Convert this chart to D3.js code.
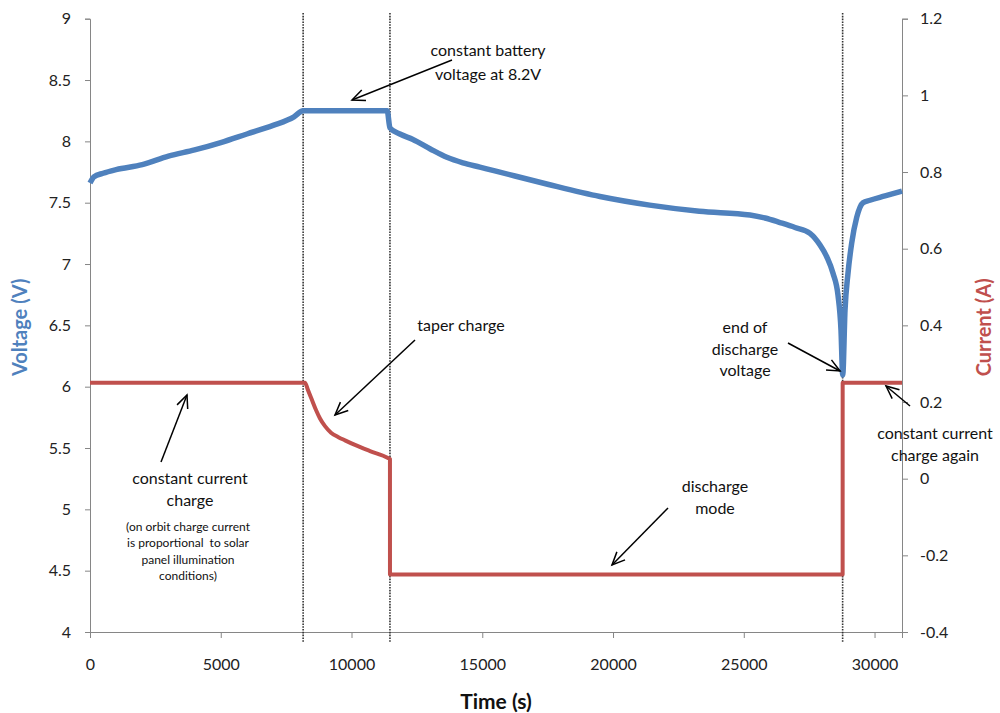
<!DOCTYPE html>
<html>
<head>
<meta charset="utf-8">
<script src="https://cdn.jsdelivr.net/npm/d3@7"></script>
<style>
  body { margin: 0; background: #fff; }
  svg text { font-family: Lato, "Open Sans", sans-serif; }
</style>
</head>
<body>
<div id="chart"></div>
<script>
// battery voltage (left axis)
const voltTime = [0, 150, 500, 1000, 2000, 3000, 4000, 5000, 6000, 7000, 7800, 8150,
                  11365, 11468, 11850, 12347, 12997, 13647, 14258, 14908, 15558, 17500, 19500, 21400,
                  23300, 25238, 25812, 26385, 26959, 27532, 27915, 28182, 28412, 28603, 28718, 28783,
                  28870, 28985, 29126, 29318, 29559, 29827, 30400, 31050];
const voltValue = [7.66, 7.71, 7.74, 7.77, 7.81, 7.88, 7.93, 7.99, 8.06, 8.13, 8.2, 8.25,
                   8.25, 8.11, 8.06, 8.015, 7.94, 7.87, 7.825, 7.79, 7.755, 7.65, 7.55, 7.48,
                   7.43, 7.40, 7.375, 7.338, 7.298, 7.25, 7.155, 7.055, 6.925, 6.745, 6.46, 6.095,
                   6.62, 6.925, 7.17, 7.38, 7.5, 7.52, 7.555, 7.595];

// battery current (right axis)
const currTime = [0, 8150, 8221, 8336, 8489, 8642, 8795, 8986, 9216, 9483, 9751, 10133,
                  10707, 11395, 11470, 11471, 28780, 28781, 31050];
const currValue = [0.25, 0.25, 0.25, 0.231, 0.205, 0.179, 0.157, 0.137, 0.12, 0.109, 0.1, 0.088,
                   0.072, 0.054, 0.051, -0.25, -0.25, 0.25, 0.25];

const phaseTimes = [8150, 11470, 28780];

const xTicks = [0, 5000, 10000, 15000, 20000, 25000, 30000];
const voltTicks = [4, 4.5, 5, 5.5, 6, 6.5, 7, 7.5, 8, 8.5, 9];
const currTicks = [-0.4, -0.2, 0, 0.2, 0.4, 0.6, 0.8, 1, 1.2];

const W = 1000, H = 713;
const margin = {top: 18.7, right: 98, bottom: 81, left: 90};
const blue = "#4f81bd", red = "#c0504d", axisGrey = "#868686";

const svg = d3.select("#chart").append("svg")
  .attr("width", W)
  .attr("height", H);

const x = d3.scaleLinear().domain([0, 31050]).range([margin.left, W - margin.right]);
const yV = d3.scaleLinear().domain([4, 9]).range([H - margin.bottom, margin.top]);
const yA = d3.scaleLinear().domain([-0.4, 1.2]).range([H - margin.bottom, margin.top]);

function styleAxis(g) {
  g.selectAll("path, line").attr("stroke", axisGrey);
  g.selectAll("text").attr("font-size", 16).attr("fill", "#222");
}

svg.append("g")
  .attr("transform", `translate(0,${H - margin.bottom})`)
  .call(d3.axisBottom(x).tickValues(xTicks).tickFormat(d3.format("d")).tickSizeOuter(0).tickSize(6).tickPadding(21))
  .call(styleAxis);

svg.append("g")
  .attr("transform", `translate(${margin.left},0)`)
  .call(d3.axisLeft(yV).tickValues(voltTicks).tickFormat(d => d).tickSizeOuter(0).tickSize(5).tickPadding(14))
  .call(styleAxis);

svg.append("g")
  .attr("transform", `translate(${W - margin.right},0)`)
  .call(d3.axisRight(yA).tickValues(currTicks).tickFormat(d => d).tickSizeOuter(0).tickSize(6).tickPadding(12))
  .call(styleAxis);

// dotted phase dividers
svg.selectAll("line.phase")
  .data(phaseTimes)
  .join("line")
  .attr("class", "phase")
  .attr("x1", d => x(d)).attr("x2", d => x(d))
  .attr("y1", 13).attr("y2", H - margin.bottom + 11)
  .attr("stroke", "#333")
  .attr("stroke-width", 1.6)
  .attr("stroke-dasharray", "1.6,1.2");

const voltLine = d3.line()
  .x((d, i) => x(voltTime[i]))
  .y(d => yV(d))
  .curve(d3.curveMonotoneX);

svg.append("path")
  .attr("d", voltLine(voltValue))
  .attr("fill", "none")
  .attr("stroke", blue)
  .attr("stroke-width", 5.5)
  .attr("stroke-linejoin", "round");

const currLine = d3.line()
  .x((d, i) => x(currTime[i]))
  .y(d => yA(d))
  .curve(d3.curveMonotoneX);

svg.append("path")
  .attr("d", currLine(currValue))
  .attr("fill", "none")
  .attr("stroke", red)
  .attr("stroke-width", 4)
  .attr("stroke-linejoin", "round");

// axis titles
svg.append("text")
  .attr("transform", `translate(27,${(margin.top + H - margin.bottom) / 2 + 2}) rotate(-90)`)
  .attr("text-anchor", "middle")
  .attr("font-size", 20).attr("font-weight", "bold").attr("fill", blue)
  .text("Voltage (V)");

svg.append("text")
  .attr("transform", `translate(991,${(margin.top + H - margin.bottom) / 2 + 2}) rotate(-90)`)
  .attr("text-anchor", "middle")
  .attr("font-size", 20).attr("font-weight", "bold").attr("fill", red)
  .text("Current (A)");

svg.append("text")
  .attr("x", (margin.left + W - margin.right) / 2)
  .attr("y", 709)
  .attr("text-anchor", "middle")
  .attr("font-size", 21).attr("font-weight", "bold").attr("fill", "#111")
  .text("Time (s)");

// annotations
const notes = [
  {lines: ["constant battery", "voltage at 8.2V"], x: 488, y: 56, size: 16, gap: 24},
  {lines: ["taper charge"], x: 461, y: 331, size: 16, gap: 22},
  {lines: ["end of", "discharge", "voltage"], x: 745, y: 333, size: 16, gap: 21.5},
  {lines: ["constant current", "charge again"], x: 935, y: 439, size: 16, gap: 22},
  {lines: ["constant current", "charge"], x: 190, y: 484, size: 16, gap: 22},
  {lines: ["(on orbit charge current", "is proportional  to solar", "panel illumination", "conditions)"],
   x: 188, y: 531, size: 12, gap: 16.3},
  {lines: ["discharge", "mode"], x: 715, y: 492, size: 16, gap: 21.5}
];

notes.forEach(n => {
  const t = svg.append("text")
    .attr("x", n.x).attr("y", n.y)
    .attr("text-anchor", "middle")
    .attr("font-size", n.size).attr("fill", "#111")
    .style("white-space", "pre");
  n.lines.forEach((l, i) => {
    t.append("tspan").attr("x", n.x).attr("dy", i === 0 ? 0 : n.gap).text(l);
  });
});

const arrows = [
  [452, 60, 352, 100],
  [415, 340, 335, 415],
  [788, 343, 840, 371],
  [910, 406, 886, 386],
  [161, 462, 187, 395],
  [668, 508, 612, 565]
];

arrows.forEach(([x1, y1, x2, y2]) => {
  const a = Math.atan2(y2 - y1, x2 - x1);
  const len = 14, spread = 0.42;
  svg.append("line")
    .attr("x1", x1).attr("y1", y1).attr("x2", x2).attr("y2", y2)
    .attr("stroke", "#000").attr("stroke-width", 1.5);
  svg.append("path")
    .attr("d", `M${x2 - len * Math.cos(a - spread)},${y2 - len * Math.sin(a - spread)}L${x2},${y2}L${x2 - len * Math.cos(a + spread)},${y2 - len * Math.sin(a + spread)}`)
    .attr("fill", "none").attr("stroke", "#000").attr("stroke-width", 1.5);
});
</script>
</body>
</html>
